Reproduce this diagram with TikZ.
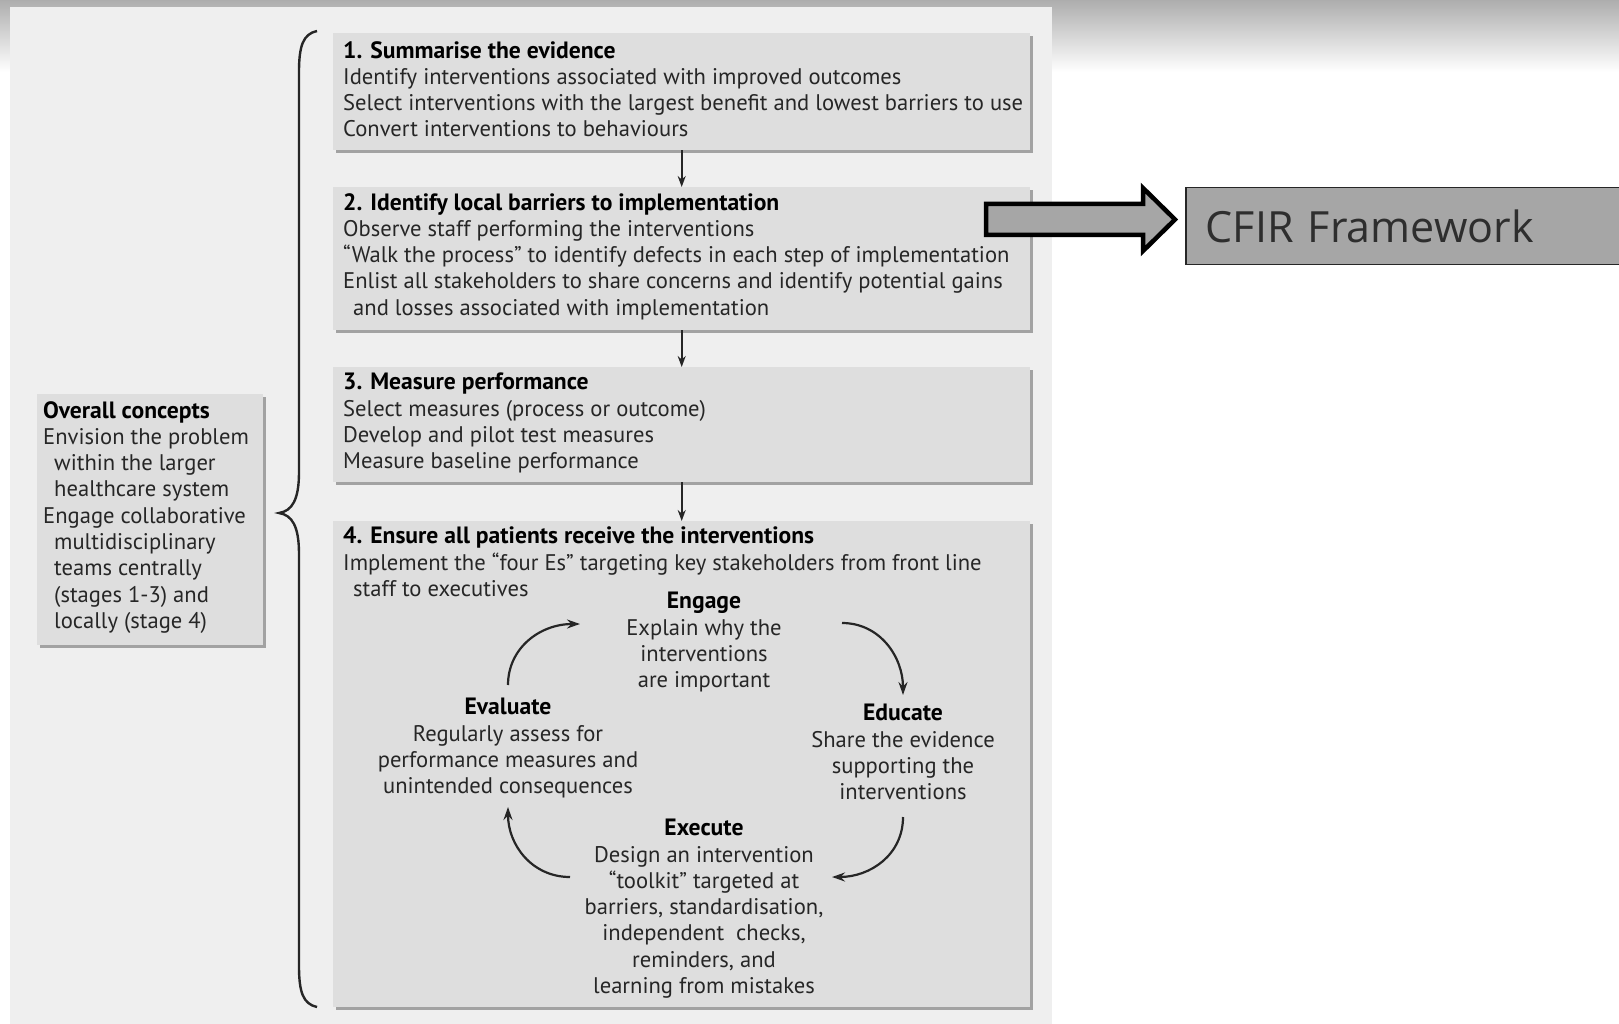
\documentclass[tikz,border=0pt]{standalone}
\usepackage{fontspec}
\setmainfont{PT Sans}
\newfontfamily\cfirfont{Open Sans}
\usetikzlibrary{shadows,arrows.meta}

\definecolor{panel}{HTML}{EFEFEF}
\definecolor{boxfill}{HTML}{DEDEDE}
\definecolor{boxshade}{HTML}{A2A2A2}
\definecolor{cfirfill}{HTML}{A6A6A6}
\definecolor{ink}{HTML}{262626}

\begin{document}
\begin{tikzpicture}[x=1pt,y=-1pt,
  stagebox/.style={rectangle, fill=boxfill, inner sep=0pt, anchor=north west,
    drop shadow={shadow xshift=2.5pt, shadow yshift=-3pt, fill=boxshade, opacity=1}},
  body/.style={inner sep=0pt, text=ink, font=\fontsize{22.6}{26.3}\selectfont},
  lefttext/.style={body, align=left, anchor=north west},
  midtext/.style={body, align=center, anchor=north},
  flow/.style={-{Stealth[length=11pt,width=8pt]}, line width=1.8pt, black!85},
  cyc/.style={-{Stealth[length=13pt,width=9pt]}, line width=2.2pt, black!85},
]
\newcommand{\hd}[1]{\textcolor{black}{\fontsize{23.6}{26.3}\selectfont\textbf{#1}}}
\useasboundingbox (0,0) rectangle (1619,1024);

% page background with the grey band fading out at the top
\fill[white] (0,0) rectangle (1619,1024);
\shade[top color=black!32, bottom color=white] (0,0) rectangle (1619,72);
\fill[panel] (10,7) rectangle (1052,1024);

% stage boxes
\node[stagebox, minimum width=697pt, minimum height=117pt] (s1) at (333,33) {};
\node[stagebox, minimum width=697pt, minimum height=143pt] (s2) at (333,187) {};
\node[stagebox, minimum width=697pt, minimum height=115pt] (s3) at (333,367) {};
\node[stagebox, minimum width=697pt, minimum height=486pt] (s4) at (333,521) {};
\node[stagebox, minimum width=226pt, minimum height=251pt] (ov) at (37,394) {};

\node[lefttext] (t1) at (343,41) {\hd{1. Summarise the evidence}\\
  Identify interventions associated with improved outcomes\\
  Select interventions with the largest benefit and lowest barriers to use\\
  Convert interventions to behaviours};
\node[lefttext] (t2) at (343,193) {\hd{2. Identify local barriers to implementation}\\
  Observe staff performing the interventions\\
  “Walk the process” to identify defects in each step of implementation\\
  Enlist all stakeholders to share concerns and identify potential gains\\
  \hspace*{10pt}and losses associated with implementation};
\node[lefttext] (t3) at (343,373) {\hd{3. Measure performance}\\
  Select measures (process or outcome)\\
  Develop and pilot test measures\\
  Measure baseline performance};
\node[lefttext] (t4) at (343,527) {\hd{4. Ensure all patients receive the interventions}\\
  Implement the “four Es” targeting key stakeholders from front line\\
  \hspace*{10pt}staff to executives};
\node[lefttext] (tov) at (43,401) {\hd{Overall concepts}\\
  Envision the problem\\
  \hspace*{11pt}within the larger\\
  \hspace*{11pt}healthcare system\\
  Engage collaborative\\
  \hspace*{11pt}multidisciplinary\\
  \hspace*{11pt}teams centrally\\
  \hspace*{11pt}(stages 1-3) and\\
  \hspace*{11pt}locally (stage 4)};

% the four Es
\node[midtext] (engage) at (704,592) {\hd{Engage}\\Explain why the\\interventions\\are important};
\node[midtext] (evaluate) at (508,698) {\hd{Evaluate}\\Regularly assess for\\performance measures and\\unintended consequences};
\node[midtext] (educate) at (903,704) {\hd{Educate}\\Share the evidence\\supporting the\\interventions};
\node[midtext] (execute) at (704,819) {\hd{Execute}\\Design an intervention\\“toolkit” targeted at\\barriers, standardisation,\\independent\ \ checks,\\reminders, and\\learning from mistakes};

% flow between stages
\draw[flow] (s1.south) -- (s2.north);
\draw[flow] (s2.south) -- (s3.north);
\draw[flow] (s3.south) -- (s4.north);

% cycle arrows
\coordinate (evOut) at (508,685);
\coordinate (enIn) at (580,624);
\coordinate (enOut) at (842,623);
\coordinate (edIn) at (903,695);
\coordinate (edOut) at (903,817);
\coordinate (exIn) at (832,877);
\coordinate (exOut) at (570,877);
\coordinate (evIn) at (508,807);
\draw[cyc] (evOut) .. controls (508,648) and (540,624) .. (enIn);
\draw[cyc] (enOut) .. controls (880,623) and (903,657) .. (edIn);
\draw[cyc] (edOut) .. controls (903,855) and (870,877) .. (exIn);
\draw[cyc] (exOut) .. controls (532,877) and (508,845) .. (evIn);

% brace gathering the four stages
\draw[line width=2.4pt, black!85] (317,31) .. controls (303,34) and (299,46) .. (299,72)
  -- (299,472) .. controls (299,500) and (292,511) .. (279,513)
  .. controls (292,515) and (299,526) .. (299,554)
  -- (299,966) .. controls (299,992) and (303,1004) .. (317,1007);

% CFIR label and block arrow
\node[rectangle, fill=cfirfill, draw=black!85, line width=1.5pt, anchor=north west,
  minimum width=460pt, minimum height=77pt, text width=420pt, align=left,
  inner xsep=19pt, inner ysep=0pt, text=black!82,
  font=\cfirfont\fontsize{43}{50}\selectfont] (cfir) at (1185,187) {CFIR Framework};
\draw[fill=cfirfill, line width=4.5pt, line join=miter]
  (986,204) -- (1143,204) -- (1143,188) -- (1175,219.5) -- (1143,251)
  -- (1143,235) -- (986,235) -- cycle;
\end{tikzpicture}
\end{document}
